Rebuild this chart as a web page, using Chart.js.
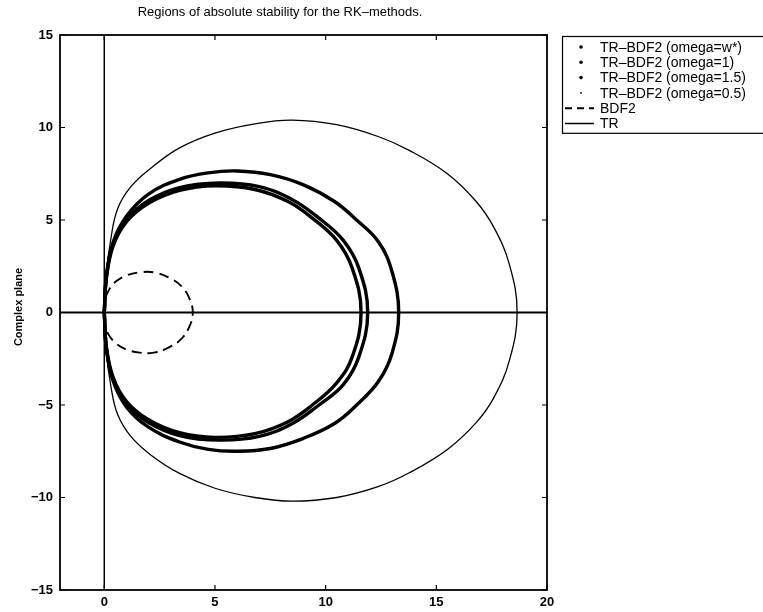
<!DOCTYPE html>
<html>
<head>
<meta charset="utf-8">
<script src="https://cdn.jsdelivr.net/npm/chart.js@4.4.1/dist/chart.umd.min.js"></script>
<style>
  html, body { margin: 0; padding: 0; background: #fff; }
</style>
</head>
<body>
<canvas id="stability" width="763" height="612"></canvas>
<script>
// axis ticks
const xTickValues = [0, 5, 10, 15, 20];
const yTickValues = [-15, -10, -5, 0, 5, 10, 15];

// boundary curves in the complex plane, [re, im], traced from the origin
// counter-clockwise over the top and back through the bottom
const trbdf2Wstar = [
  [0, 0], [0.1, 1.9], [0.4, 3.6], [1, 4.9], [2, 5.9], [3.4, 6.6], [5, 6.85],
  [6.8, 6.65], [8.3, 6.0], [9.4, 5.1], [10.5, 3.9], [11.2, 2.4], [11.6, 0],
  [11.2, -2.4], [10.5, -3.8], [9.4, -5.0], [8.3, -5.9], [6.8, -6.55], [5, -6.75],
  [3.4, -6.5], [2, -5.8], [1, -4.8], [0.4, -3.5], [0.1, -1.9], [0, 0]
];
const trbdf2One = [
  [0, 0], [0.1, 2], [0.4, 3.7], [1, 5.0], [2, 6.05], [3.4, 6.75], [5.2, 7.0],
  [7, 6.8], [8.5, 6.1], [9.7, 5.1], [10.8, 3.9], [11.5, 2.4], [11.9, 0],
  [11.5, -2.4], [10.8, -3.9], [9.7, -5.0], [8.5, -6.0], [7, -6.7], [5.2, -6.9],
  [3.4, -6.65], [2, -5.95], [1, -4.9], [0.4, -3.6], [0.1, -2], [0, 0]
];
const trbdf2OneHalf = [
  [0, 0], [0.1, 2], [0.4, 3.8], [1, 5.2], [2, 6.4], [3.4, 7.2], [4.7, 7.55],
  [6, 7.65], [7.5, 7.45], [9, 6.9], [10.4, 6.0], [11.4, 5.0], [12.4, 3.8],
  [13, 2.2], [13.3, 0],
  [13, -2.2], [12.4, -3.7], [11.4, -5.0], [10.4, -6.0], [9, -6.8], [7.5, -7.35],
  [6, -7.5], [4.7, -7.4], [3.4, -7.0], [2, -6.2], [1, -5.1], [0.4, -3.7],
  [0.1, -2], [0, 0]
];
const trbdf2Half = [
  [0, 0], [0.08, 2], [0.3, 4], [0.6, 5.6], [1.2, 6.8], [2.1, 7.8], [3.4, 8.9],
  [5, 9.7], [6.8, 10.2], [8.5, 10.4], [10.5, 10.15], [12.4, 9.5], [13.8, 8.75],
  [15.5, 7.5], [16.8, 6.0], [17.6, 4.6], [18.3, 2.6], [18.65, 0],
  [18.3, -2.6], [17.6, -4.6], [16.8, -5.95], [15.5, -7.4], [13.8, -8.65],
  [12.4, -9.4], [10.5, -10.0], [8.5, -10.2], [6.8, -10.0], [5, -9.5],
  [3.4, -8.7], [2.1, -7.7], [1.2, -6.7], [0.6, -5.5], [0.3, -4], [0.08, -2], [0, 0]
];
const bdf2 = [
  [0, 0], [0.02, 0.57], [0.09, 0.91], [0.25, 1.3], [0.55, 1.7], [1, 2],
  [1.6, 2.17], [2.25, 2.17], [2.9, 1.9], [3.48, 1.43], [3.85, 0.75], [4, 0],
  [3.85, -0.75], [3.48, -1.43], [2.9, -1.9], [2.25, -2.17], [1.6, -2.17],
  [1, -2], [0.55, -1.7], [0.25, -1.3], [0.09, -0.91], [0.02, -0.57], [0, 0]
];
const tr = [[0, -15], [0, 15]];
const realAxis = [[-2, 0], [20, 0]];

const toPoints = arr => arr.map(([x, y]) => ({x, y}));
const minus = v => String(v).replace('-', '\u2212');

function curve(label, data, width, extra) {
  return Object.assign({
    label,
    data: toPoints(data),
    showLine: true,
    borderColor: '#000',
    borderWidth: width,
    pointRadius: 0,
    tension: 0.4,
    fill: false
  }, extra || {});
}

const datasets = [
  curve('TR\u2013BDF2 (omega=w*)', trbdf2Wstar, 3.4, {legendDot: 1.8}),
  curve('TR\u2013BDF2 (omega=1)', trbdf2One, 3.4, {legendDot: 1.8}),
  curve('TR\u2013BDF2 (omega=1.5)', trbdf2OneHalf, 3.4, {legendDot: 1.8}),
  curve('TR\u2013BDF2 (omega=0.5)', trbdf2Half, 1.3, {legendDot: 0.9}),
  curve('BDF2', bdf2, 1.9, {borderDash: [10, 6]}),
  curve('TR', tr, 1.5, {tension: 0}),
  curve('', realAxis, 2.2, {tension: 0, noLegend: true})
];

const tickFont = {family: '"Liberation Sans", Arial, sans-serif', size: 13, weight: 'bold'};

// frame, inward ticks, title, y label and boxed legend in the matlab style
const decorations = {
  id: 'decorations',
  afterDraw(chart) {
    const {ctx, chartArea: a, scales} = chart;
    ctx.save();
    ctx.strokeStyle = '#000';
    ctx.fillStyle = '#000';

    ctx.lineWidth = 1.8;
    ctx.strokeRect(a.left, a.top, a.right - a.left, a.bottom - a.top);

    ctx.lineWidth = 1.2;
    ctx.beginPath();
    xTickValues.forEach(v => {
      const px = scales.x.getPixelForValue(v);
      ctx.moveTo(px, a.bottom); ctx.lineTo(px, a.bottom - 5);
      ctx.moveTo(px, a.top); ctx.lineTo(px, a.top + 5);
    });
    yTickValues.forEach(v => {
      const py = scales.y.getPixelForValue(v);
      ctx.moveTo(a.left, py); ctx.lineTo(a.left + 5, py);
      ctx.moveTo(a.right, py); ctx.lineTo(a.right - 5, py);
    });
    ctx.stroke();

    ctx.font = '13px "Liberation Sans", Arial, sans-serif';
    ctx.textAlign = 'center';
    ctx.textBaseline = 'middle';
    ctx.fillText('Regions of absolute stability for the RK\u2013methods.', 280, 12);

    ctx.save();
    ctx.translate(19, 307);
    ctx.rotate(-Math.PI / 2);
    ctx.font = 'bold 11px "Liberation Sans", Arial, sans-serif';
    ctx.fillText('Complex plane', 0, 0);
    ctx.restore();

    // legend box
    const lx = 562, ly = 36, rowH = 15.3;
    const items = chart.data.datasets.filter(d => !d.noLegend);
    ctx.lineWidth = 1.2;
    ctx.strokeRect(lx + 0.5, ly + 0.5, 220, items.length * rowH + 5);
    ctx.font = '14px "Liberation Sans", Arial, sans-serif';
    ctx.textAlign = 'left';
    items.forEach((d, i) => {
      const y = ly + 11 + i * rowH;
      if (d.legendDot) {
        ctx.beginPath();
        ctx.arc(581, y, d.legendDot, 0, Math.PI * 2);
        ctx.fill();
      } else {
        ctx.lineWidth = d.borderWidth;
        ctx.setLineDash(d.borderDash ? [7, 5] : []);
        ctx.beginPath();
        ctx.moveTo(565, y); ctx.lineTo(594, y);
        ctx.stroke();
        ctx.setLineDash([]);
      }
      ctx.fillText(d.label, 600, y + 1);
    });
    ctx.restore();
  }
};

new Chart(document.getElementById('stability'), {
  type: 'scatter',
  data: {datasets},
  options: {
    responsive: false,
    devicePixelRatio: 1,
    animation: false,
    layout: {padding: {top: 35, right: 216, left: 0, bottom: 0}},
    plugins: {legend: {display: false}, tooltip: {enabled: false}},
    scales: {
      x: {
        type: 'linear', min: -2, max: 20,
        afterBuildTicks: s => { s.ticks = xTickValues.map(value => ({value})); },
        afterFit: s => { s.height = 22; },
        grid: {display: false, drawTicks: false, tickLength: 0},
        border: {display: false},
        ticks: {color: '#000', padding: 5, maxRotation: 0, font: tickFont, callback: v => minus(v)}
      },
      y: {
        type: 'linear', min: -15, max: 15,
        afterBuildTicks: s => { s.ticks = yTickValues.map(value => ({value})); },
        afterFit: s => { s.width = 60; },
        grid: {display: false, drawTicks: false, tickLength: 0},
        border: {display: false},
        ticks: {color: '#000', padding: 7, font: tickFont, callback: v => minus(v)}
      }
    }
  },
  plugins: [decorations]
});
</script>
</body>
</html>
